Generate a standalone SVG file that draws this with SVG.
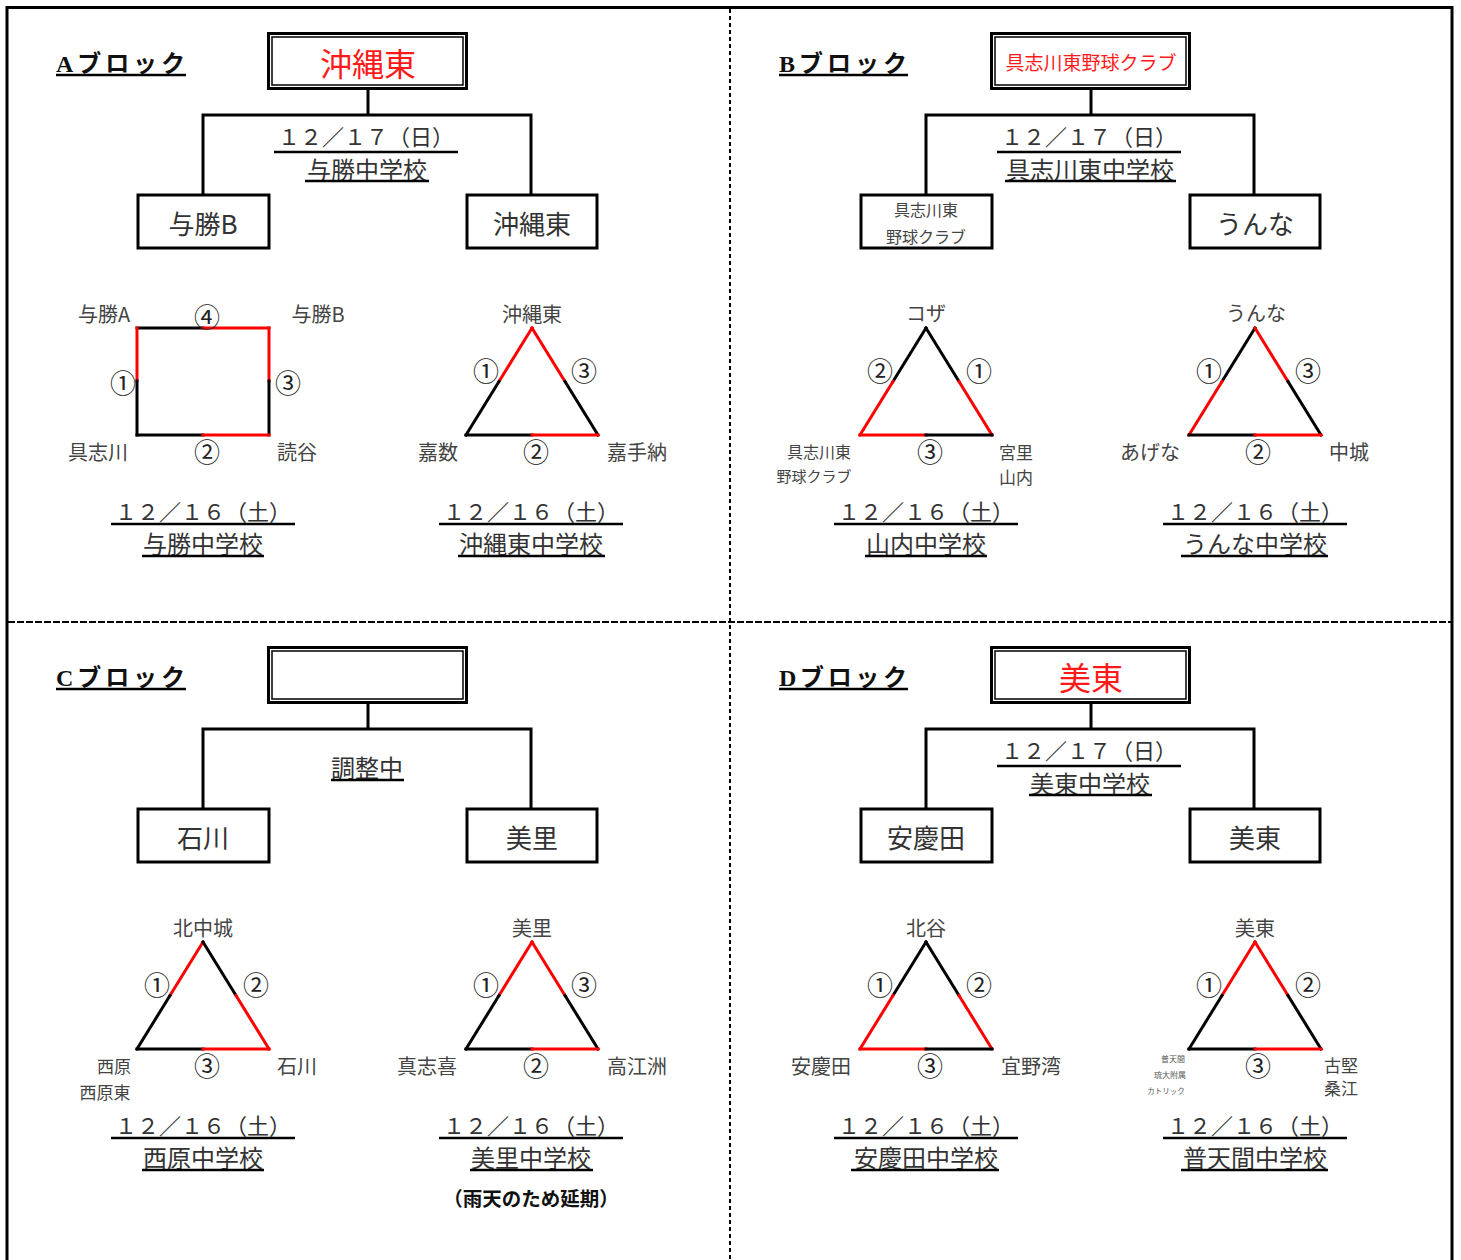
<svg xmlns="http://www.w3.org/2000/svg" width="1461" height="1260" viewBox="0 0 1461 1260">
<style>
text{font-family:"Noto Sans CJK JP","Noto Sans",sans-serif;text-anchor:middle;dominant-baseline:central;fill:#333}
.ttl{font-family:"Liberation Serif","Noto Sans CJK JP",serif;font-size:24px;font-weight:bold;text-anchor:start;dominant-baseline:alphabetic;fill:#111}
.top{font-size:32px;fill:#ff1a1a}
.box{font-size:26px;fill:#333}
.dt{font-size:22px;fill:#333}
.sc{font-size:24px;fill:#333}
.lb{font-size:20px;fill:#444}
.ls{font-size:17px;fill:#444}
.n{font-size:26px;fill:#222}
.frame{fill:none;stroke:#000;stroke-width:3}
.inner{fill:none;stroke:#000;stroke-width:1.5}
.ln{fill:none;stroke:#000;stroke-width:3}
.u{stroke:#000;stroke-width:2.5}
.k{stroke:#000;stroke-width:3;stroke-linecap:square}
.r{stroke:#f00;stroke-width:3;stroke-linecap:square}
</style>

<g id="frame">
<path d="M7 1262 V7.5 H1452 V1262" fill="none" stroke="#000" stroke-width="3"/>
<line x1="730" y1="9" x2="730" y2="1260" stroke="#000" stroke-width="2" stroke-dasharray="4 3"/>
<line x1="8" y1="622" x2="1451" y2="622" stroke="#000" stroke-width="2" stroke-dasharray="7 2"/>
</g>

<g id="connectors">
<path class="ln" d="M368 89 V115 M203 195 V115 H531 V195"/>
<path class="ln" d="M1091 89 V115 M926 195 V115 H1254 V195"/>
<path class="ln" d="M368 703 V729 M203 809 V729 H531 V809"/>
<path class="ln" d="M1091 703 V729 M926 809 V729 H1254 V809"/>
</g>

<!-- Block A -->
<g id="blockA">
<text class="ttl" x="56" y="72" textLength="129">Aブロック</text>
<line class="u" x1="56" y1="75" x2="186" y2="75"/>
<g id="A-final">
<rect class="frame" x="268.5" y="33.5" width="198" height="55"/>
<rect class="inner" x="272" y="37" width="191" height="48"/>
<text class="top" x="368" y="62">沖縄東</text>
</g>
<text class="dt" x="366" y="135" textLength="176">１２／１７（日）</text>
<line class="u" x1="274" y1="152" x2="458" y2="152"/>
<text class="sc" x="367" y="168">与勝中学校</text>
<line class="u" x1="305" y1="181" x2="429" y2="181"/>
<g id="A-left"><rect class="frame" x="138" y="195" width="131" height="53"/><text class="box" x="203" y="222">与勝B</text></g>
<g id="A-right"><rect class="frame" x="467" y="195" width="130" height="53"/><text class="box" x="532" y="222">沖縄東</text></g>
<g id="A-square">
<line class="k" x1="137" y1="328" x2="203" y2="328"/>
<line class="r" x1="203" y1="328" x2="269" y2="328"/>
<line class="r" x1="137" y1="328" x2="137" y2="381"/>
<line class="k" x1="137" y1="381" x2="137" y2="435"/>
<line class="r" x1="269" y1="328" x2="269" y2="381"/>
<line class="k" x1="269" y1="381" x2="269" y2="435"/>
<line class="k" x1="137" y1="435" x2="203" y2="435"/>
<line class="r" x1="203" y1="435" x2="269" y2="435"/>
<text class="lb" x="104" y="313">与勝A</text>
<text class="n" x="207" y="315">④</text>
<text class="lb" x="318" y="313">与勝B</text>
<text class="n" x="123" y="381">①</text>
<text class="n" x="288" y="381">③</text>
<text class="lb" x="98" y="451">具志川</text>
<text class="n" x="207" y="450">②</text>
<text class="lb" x="297" y="451">読谷</text>
<text class="dt" x="203" y="510" textLength="176">１２／１６（土）</text>
<line class="u" x1="111" y1="524" x2="295" y2="524"/>
<text class="sc" x="203" y="542">与勝中学校</text>
<line class="u" x1="142" y1="556" x2="264" y2="556"/>
</g>
<g id="A-tri">
<line class="r" x1="532" y1="328" x2="499" y2="381.5"/>
<line class="k" x1="499" y1="381.5" x2="466" y2="435"/>
<line class="r" x1="532" y1="328" x2="565" y2="381.5"/>
<line class="k" x1="565" y1="381.5" x2="598" y2="435"/>
<line class="k" x1="466" y1="435" x2="532" y2="435"/>
<line class="r" x1="532" y1="435" x2="598" y2="435"/>
<text class="lb" x="532" y="313">沖縄東</text>
<text class="n" x="486" y="369">①</text>
<text class="n" x="584" y="369">③</text>
<text class="lb" x="438" y="451">嘉数</text>
<text class="n" x="536" y="450">②</text>
<text class="lb" x="637" y="451">嘉手納</text>
<text class="dt" x="531" y="510" textLength="176">１２／１６（土）</text>
<line class="u" x1="439" y1="524" x2="623" y2="524"/>
<text class="sc" x="531" y="542">沖縄東中学校</text>
<line class="u" x1="458" y1="556" x2="605" y2="556"/>
</g>
</g>

<!-- Block B -->
<g id="blockB">
<text class="ttl" x="779" y="72" textLength="128">Bブロック</text>
<line class="u" x1="779" y1="75" x2="908" y2="75"/>
<g id="B-final">
<rect class="frame" x="991.5" y="33.5" width="198" height="55"/>
<rect class="inner" x="995" y="37" width="191" height="48"/>
<text class="top" x="1091" y="61" style="font-size:19px">具志川東野球クラブ</text>
</g>
<text class="dt" x="1089" y="135" textLength="176">１２／１７（日）</text>
<line class="u" x1="997" y1="152" x2="1181" y2="152"/>
<text class="sc" x="1090" y="168">具志川東中学校</text>
<line class="u" x1="1005" y1="181" x2="1176" y2="181"/>
<g id="B-left"><rect class="frame" x="861" y="195" width="131" height="53"/><text class="ls" x="926" y="209" style="font-size:16px">具志川東</text><text class="ls" x="926" y="236" style="font-size:16px">野球クラブ</text></g>
<g id="B-right"><rect class="frame" x="1190" y="195" width="130" height="53"/><text class="box" x="1255" y="222">うんな</text></g>
<g id="B-tri1">
<line class="k" x1="926" y1="328" x2="893" y2="381.5"/>
<line class="r" x1="893" y1="381.5" x2="860" y2="435"/>
<line class="k" x1="926" y1="328" x2="959" y2="381.5"/>
<line class="r" x1="959" y1="381.5" x2="992" y2="435"/>
<line class="r" x1="860" y1="435" x2="926" y2="435"/>
<line class="k" x1="926" y1="435" x2="992" y2="435"/>
<text class="lb" x="926" y="312">コザ</text>
<text class="n" x="880" y="369">②</text>
<text class="n" x="979" y="369">①</text>
<text class="ls" x="819" y="451" style="font-size:16px">具志川東</text>
<text class="ls" x="814" y="475" style="font-size:15px">野球クラブ</text>
<text class="n" x="930" y="450">③</text>
<text class="ls" x="1016" y="451">宮里</text>
<text class="ls" x="1016" y="476">山内</text>
<text class="dt" x="926" y="510" textLength="176">１２／１６（土）</text>
<line class="u" x1="834" y1="524" x2="1018" y2="524"/>
<text class="sc" x="926" y="542">山内中学校</text>
<line class="u" x1="865" y1="556" x2="987" y2="556"/>
</g>
<g id="B-tri2">
<line class="k" x1="1255" y1="328" x2="1222" y2="381.5"/>
<line class="r" x1="1222" y1="381.5" x2="1189" y2="435"/>
<line class="r" x1="1255" y1="328" x2="1288" y2="381.5"/>
<line class="k" x1="1288" y1="381.5" x2="1321" y2="435"/>
<line class="k" x1="1189" y1="435" x2="1255" y2="435"/>
<line class="r" x1="1255" y1="435" x2="1321" y2="435"/>
<text class="lb" x="1256" y="312">うんな</text>
<text class="n" x="1209" y="369">①</text>
<text class="n" x="1308" y="369">③</text>
<text class="lb" x="1150" y="451">あげな</text>
<text class="n" x="1258" y="450">②</text>
<text class="lb" x="1349" y="451">中城</text>
<text class="dt" x="1255" y="510" textLength="176">１２／１６（土）</text>
<line class="u" x1="1163" y1="524" x2="1347" y2="524"/>
<text class="sc" x="1255" y="542">うんな中学校</text>
<line class="u" x1="1181" y1="556" x2="1328" y2="556"/>
</g>
</g>

<!-- Block C -->
<g id="blockC">
<text class="ttl" x="56" y="686" textLength="129">Cブロック</text>
<line class="u" x1="56" y1="689" x2="186" y2="689"/>
<g id="C-final">
<rect class="frame" x="268.5" y="647.5" width="198" height="55"/>
<rect class="inner" x="272" y="651" width="191" height="48"/>
</g>
<text class="sc" x="367" y="766">調整中</text>
<line class="u" x1="331" y1="780" x2="404" y2="780"/>
<g id="C-left"><rect class="frame" x="138" y="809" width="131" height="53"/><text class="box" x="203" y="836">石川</text></g>
<g id="C-right"><rect class="frame" x="467" y="809" width="130" height="53"/><text class="box" x="532" y="836">美里</text></g>
<g id="C-tri1">
<line class="r" x1="203" y1="942" x2="170" y2="995.5"/>
<line class="k" x1="170" y1="995.5" x2="137" y2="1049"/>
<line class="k" x1="203" y1="942" x2="236" y2="995.5"/>
<line class="r" x1="236" y1="995.5" x2="269" y2="1049"/>
<line class="k" x1="137" y1="1049" x2="203" y2="1049"/>
<line class="r" x1="203" y1="1049" x2="269" y2="1049"/>
<text class="lb" x="203" y="927">北中城</text>
<text class="n" x="157" y="983">①</text>
<text class="n" x="256" y="983">②</text>
<text class="ls" x="114" y="1065">西原</text>
<text class="ls" x="105" y="1091">西原東</text>
<text class="n" x="207" y="1064">③</text>
<text class="lb" x="297" y="1065">石川</text>
<text class="dt" x="203" y="1124" textLength="176">１２／１６（土）</text>
<line class="u" x1="111" y1="1138" x2="295" y2="1138"/>
<text class="sc" x="203" y="1156">西原中学校</text>
<line class="u" x1="142" y1="1170" x2="264" y2="1170"/>
</g>
<g id="C-tri2">
<line class="r" x1="532" y1="942" x2="499" y2="995.5"/>
<line class="k" x1="499" y1="995.5" x2="466" y2="1049"/>
<line class="r" x1="532" y1="942" x2="565" y2="995.5"/>
<line class="k" x1="565" y1="995.5" x2="598" y2="1049"/>
<line class="k" x1="466" y1="1049" x2="532" y2="1049"/>
<line class="r" x1="532" y1="1049" x2="598" y2="1049"/>
<text class="lb" x="532" y="927">美里</text>
<text class="n" x="486" y="983">①</text>
<text class="n" x="584" y="983">③</text>
<text class="lb" x="427" y="1065">真志喜</text>
<text class="n" x="536" y="1064">②</text>
<text class="lb" x="637" y="1065">高江洲</text>
<text class="dt" x="531" y="1124" textLength="176">１２／１６（土）</text>
<line class="u" x1="439" y1="1138" x2="623" y2="1138"/>
<text class="sc" x="531" y="1156">美里中学校</text>
<line class="u" x1="470" y1="1170" x2="593" y2="1170"/>
<text x="531" y="1197" style="font-size:19.5px;font-weight:bold;fill:#111">（雨天のため延期）</text>
</g>
</g>

<!-- Block D -->
<g id="blockD">
<text class="ttl" x="779" y="686" textLength="128">Dブロック</text>
<line class="u" x1="779" y1="689" x2="908" y2="689"/>
<g id="D-final">
<rect class="frame" x="991.5" y="647.5" width="198" height="55"/>
<rect class="inner" x="995" y="651" width="191" height="48"/>
<text class="top" x="1091" y="676">美東</text>
</g>
<text class="dt" x="1089" y="749" textLength="176">１２／１７（日）</text>
<line class="u" x1="997" y1="766" x2="1181" y2="766"/>
<text class="sc" x="1090" y="782">美東中学校</text>
<line class="u" x1="1029" y1="795" x2="1152" y2="795"/>
<g id="D-left"><rect class="frame" x="861" y="809" width="131" height="53"/><text class="box" x="926" y="836">安慶田</text></g>
<g id="D-right"><rect class="frame" x="1190" y="809" width="130" height="53"/><text class="box" x="1255" y="836">美東</text></g>
<g id="D-tri1">
<line class="k" x1="926" y1="942" x2="893" y2="995.5"/>
<line class="r" x1="893" y1="995.5" x2="860" y2="1049"/>
<line class="k" x1="926" y1="942" x2="959" y2="995.5"/>
<line class="r" x1="959" y1="995.5" x2="992" y2="1049"/>
<line class="r" x1="860" y1="1049" x2="926" y2="1049"/>
<line class="k" x1="926" y1="1049" x2="992" y2="1049"/>
<text class="lb" x="926" y="927">北谷</text>
<text class="n" x="880" y="983">①</text>
<text class="n" x="979" y="983">②</text>
<text class="lb" x="821" y="1065">安慶田</text>
<text class="n" x="930" y="1064">③</text>
<text class="lb" x="1031" y="1065">宜野湾</text>
<text class="dt" x="926" y="1124" textLength="176">１２／１６（土）</text>
<line class="u" x1="834" y1="1138" x2="1018" y2="1138"/>
<text class="sc" x="926" y="1156">安慶田中学校</text>
<line class="u" x1="851" y1="1170" x2="999" y2="1170"/>
</g>
<g id="D-tri2">
<line class="r" x1="1255" y1="942" x2="1222" y2="995.5"/>
<line class="k" x1="1222" y1="995.5" x2="1189" y2="1049"/>
<line class="r" x1="1255" y1="942" x2="1288" y2="995.5"/>
<line class="k" x1="1288" y1="995.5" x2="1321" y2="1049"/>
<line class="k" x1="1189" y1="1049" x2="1255" y2="1049"/>
<line class="r" x1="1255" y1="1049" x2="1321" y2="1049"/>
<text class="lb" x="1255" y="927">美東</text>
<text class="n" x="1209" y="983">①</text>
<text class="n" x="1308" y="983">②</text>
<text x="1173" y="1058" style="font-size:8px;fill:#555">普天間</text>
<text x="1170" y="1074" style="font-size:8px;fill:#555">琉大附属</text>
<text x="1166" y="1090" style="font-size:7.5px;fill:#555">カトリック</text>
<text class="n" x="1258" y="1064">③</text>
<text class="ls" x="1341" y="1064">古堅</text>
<text class="ls" x="1341" y="1087">桑江</text>
<text class="dt" x="1255" y="1124" textLength="176">１２／１６（土）</text>
<line class="u" x1="1163" y1="1138" x2="1347" y2="1138"/>
<text class="sc" x="1255" y="1156">普天間中学校</text>
<line class="u" x1="1181" y1="1170" x2="1328" y2="1170"/>
</g>
</g>
</svg>
